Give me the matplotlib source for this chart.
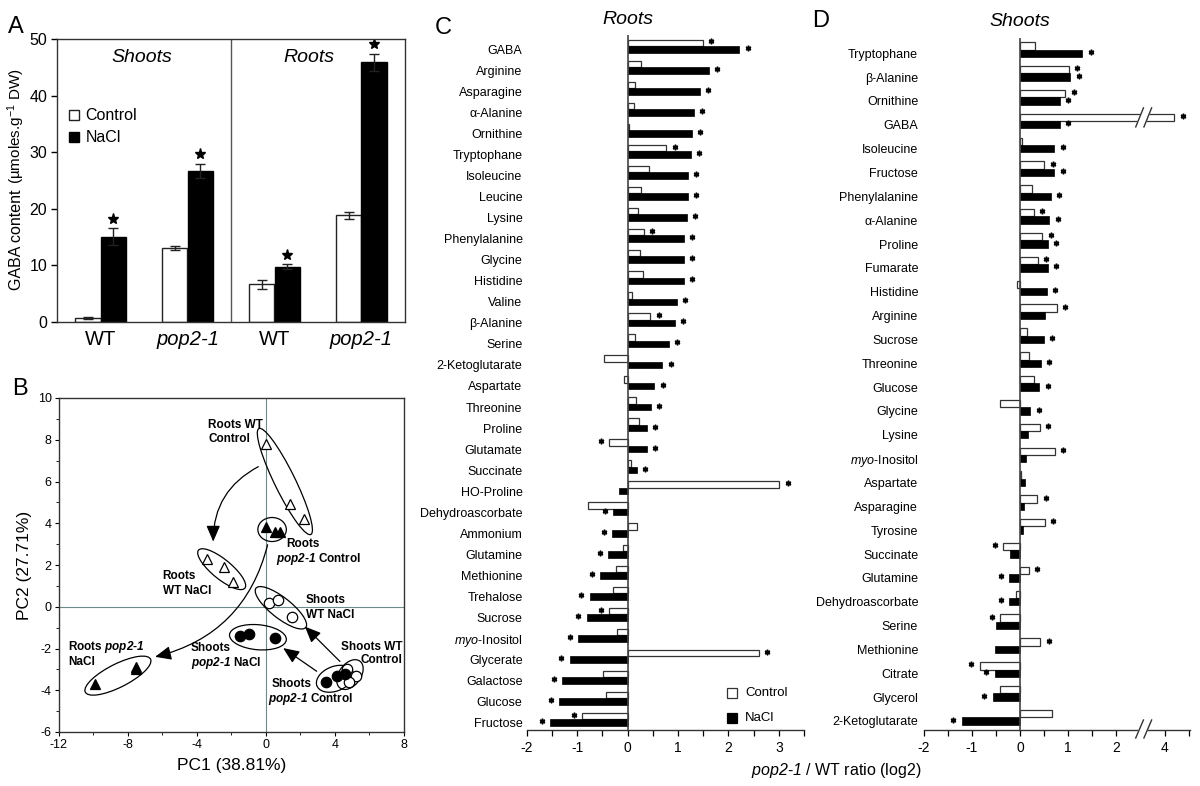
import matplotlib
matplotlib.use('Agg')
import matplotlib.pyplot as plt
import numpy as np
from matplotlib.patches import Ellipse
import matplotlib.transforms as mtransforms

plt.rcParams['font.family'] = ['Liberation Sans', 'DejaVu Sans']
plt.rcParams['mathtext.fontset'] = 'custom'
plt.rcParams['mathtext.rm'] = 'Liberation Sans'
plt.rcParams['mathtext.it'] = 'Liberation Sans:italic'
plt.rcParams['mathtext.bf'] = 'Liberation Sans:italic'          # used for plain italic words
plt.rcParams['mathtext.sf'] = 'Liberation Sans:italic:bold'     # used for bold italic words
plt.rcParams['mathtext.default'] = 'regular'
plt.rcParams['axes.unicode_minus'] = False

# ---------------- data ----------------
# Panel A: GABA content
a_groups = ['WT', 'pop2-1', 'WT', 'pop2-1']
a_ctrl = [0.7, 13.1, 6.7, 18.9]
a_ctrl_err = [0.15, 0.4, 0.8, 0.6]
a_nacl = [15.1, 26.7, 9.8, 45.9]
a_nacl_err = [1.5, 1.3, 0.4, 1.5]

# Panel B: PCA scores
rwc_x = [0.0, 1.4, 2.2];    rwc_y = [7.8, 4.9, 4.2]     # Roots WT Control
rpc_x = [0.0, 0.5, 0.8];    rpc_y = [3.8, 3.6, 3.6]     # Roots pop2-1 Control
rwn_x = [-3.4, -2.4, -1.9]; rwn_y = [2.3, 1.9, 1.2]     # Roots WT NaCl
rpn_x = [-9.9, -7.5, -7.5]; rpn_y = [-3.7, -3.0, -2.9]  # Roots pop2-1 NaCl
swc_x = [4.7, 5.2, 4.8];    swc_y = [-3.0, -3.3, -3.6]  # Shoots WT Control
spc_x = [3.5, 4.1, 4.6];    spc_y = [-3.6, -3.3, -3.2]  # Shoots pop2-1 Control
swn_x = [0.2, 0.7, 1.5];    swn_y = [0.2, 0.3, -0.5]    # Shoots WT NaCl
spn_x = [-1.5, -1.0, 0.5];  spn_y = [-1.4, -1.3, -1.5]  # Shoots pop2-1 NaCl

# Panel C: Roots log2 ratios
roots_labels = ['GABA', 'Arginine', 'Asparagine', 'α-Alanine', 'Ornithine', 'Tryptophane',
                'Isoleucine', 'Leucine', 'Lysine', 'Phenylalanine', 'Glycine', 'Histidine',
                'Valine', 'β-Alanine', 'Serine', '2-Ketoglutarate', 'Aspartate', 'Threonine',
                'Proline', 'Glutamate', 'Succinate', 'HO-Proline', 'Dehydroascorbate',
                'Ammonium', 'Glutamine', 'Methionine', 'Trehalose', 'Sucrose',
                '$\\mathbf{myo}$-Inositol', 'Glycerate', 'Galactose', 'Glucose', 'Fructose']
roots_ctrl = [1.49, 0.27, 0.14, 0.12, 0.02, 0.77, 0.42, 0.27, 0.20, 0.32, 0.24, 0.30, 0.08,
              0.45, 0.15, -0.46, -0.08, 0.16, 0.23, -0.36, 0.06, 3.01, -0.79, 0.18, -0.09,
              -0.22, -0.28, -0.36, -0.21, 2.61, -0.49, -0.42, -0.90]
roots_nacl = [2.22, 1.61, 1.43, 1.31, 1.27, 1.25, 1.20, 1.19, 1.17, 1.12, 1.12, 1.11, 0.98,
              0.94, 0.82, 0.69, 0.53, 0.46, 0.38, 0.38, 0.19, -0.16, -0.29, -0.30, -0.39,
              -0.54, -0.75, -0.81, -0.98, -1.15, -1.29, -1.35, -1.54]
roots_ctrl_sig = [1, 0, 0, 0, 0, 1, 0, 0, 0, 1, 0, 0, 0, 1, 0, 0, 0, 0, 0, 1, 0, 1, 0, 0, 0,
                  0, 0, 1, 0, 1, 0, 0, 1]
roots_nacl_sig = [1, 1, 1, 1, 1, 1, 1, 1, 1, 1, 1, 1, 1, 1, 1, 1, 1, 1, 1, 1, 1, 0, 1, 1, 1,
                  1, 1, 1, 1, 1, 1, 1, 1]

# Panel D: Shoots log2 ratios
shoots_labels = ['Tryptophane', 'β-Alanine', 'Ornithine', 'GABA', 'Isoleucine', 'Fructose',
                 'Phenylalanine', 'α-Alanine', 'Proline', 'Fumarate', 'Histidine', 'Arginine',
                 'Sucrose', 'Threonine', 'Glucose', 'Glycine', 'Lysine',
                 '$\\mathbf{myo}$-Inositol', 'Aspartate', 'Asparagine', 'Tyrosine', 'Succinate',
                 'Glutamine', 'Dehydroascorbate', 'Serine', 'Methionine', 'Citrate',
                 'Glycerol', '2-Ketoglutarate']
shoots_ctrl = [0.31, 1.01, 0.94, 4.2, 0.04, 0.50, 0.24, 0.29, 0.46, 0.37, -0.07, 0.76, 0.15,
               0.19, 0.29, -0.41, 0.41, 0.72, 0.01, 0.36, 0.52, -0.35, 0.18, -0.08, -0.42,
               0.42, -0.84, -0.41, 0.67]
shoots_nacl = [1.29, 1.04, 0.83, 0.83, 0.71, 0.71, 0.64, 0.61, 0.57, 0.57, 0.55, 0.52, 0.49,
               0.43, 0.40, 0.21, 0.17, 0.12, 0.10, 0.09, 0.07, -0.20, -0.23, -0.23, -0.51,
               -0.53, -0.53, -0.57, -1.21]
shoots_ctrl_sig = [0, 1, 1, 1, 0, 1, 0, 1, 1, 1, 0, 1, 0, 0, 0, 0, 1, 1, 0, 1, 1, 1, 1, 0, 1,
                   1, 1, 0, 0]
shoots_nacl_sig = [1, 1, 1, 1, 1, 1, 1, 1, 1, 1, 1, 0, 1, 1, 1, 1, 0, 0, 0, 0, 0, 0, 1, 1, 0,
                   0, 1, 1, 1]
d_ticks = [-2, -1, 0, 1, 2, 3]
d_ticklabels = ['-2', '-1', '0', '1', '2', '4']

# ---------------- figure ----------------
W, H = 1200, 786
fig = plt.figure(figsize=(W / 100, H / 100), dpi=100)
EDGE = '#333333'


def ax_px(l, t, r, b):
    return fig.add_axes([l / W, 1 - b / H, (r - l) / W, (b - t) / H])


def ftext(xp, yp, s, **kw):
    return fig.text(xp / W, 1 - yp / H, s, **kw)


# ---------------- Panel A ----------------
axA = ax_px(57, 39.3, 405, 322)
xa = np.arange(len(a_groups))
bw = 0.295
ekw = dict(lw=1, ecolor='#222222', capthick=1)
axA.bar(xa - bw / 2, a_ctrl, bw, color='white', edgecolor='#222222', lw=1,
        yerr=a_ctrl_err, capsize=3.5, error_kw=ekw, zorder=2)
axA.bar(xa + bw / 2, a_nacl, bw, color='black', edgecolor='black', lw=1,
        yerr=a_nacl_err, capsize=3.5, error_kw=ekw, zorder=2)
axA.plot(xa + bw / 2, np.array(a_nacl) + np.array(a_nacl_err) + 1.7, '*', color='black',
         ms=8, ls='none')
axA.axvline(1.5, color='#555555', lw=1)
axA.set_xlim(-0.5, 3.5)
axA.set_ylim(0, 50)
axA.set_yticks(range(0, 51, 10))
axA.set_xticks(xa)
axA.set_xticklabels(a_groups)
for lab in axA.get_xticklabels():
    if lab.get_text() != 'WT':
        lab.set_fontstyle('italic')
axA.tick_params(axis='x', length=0, pad=6, labelsize=14.5)
axA.tick_params(axis='y', length=4, width=1, labelsize=11.5, pad=3)
for s in axA.spines.values():
    s.set_color(EDGE)
    s.set_linewidth(1)
axA.text(0.48, 46.7, 'Shoots', fontstyle='italic', fontsize=14, ha='center', va='center')
axA.text(2.4, 46.7, 'Roots', fontstyle='italic', fontsize=14, ha='center', va='center')
axA.plot([-0.30], [36.6], 's', mfc='white', mec='#222222', ms=6.5, mew=1)
axA.plot([-0.30], [32.7], 's', mfc='black', mec='black', ms=6.5, mew=1)
axA.text(-0.17, 36.6, 'Control', fontsize=11.5, va='center')
axA.text(-0.17, 32.7, 'NaCl', fontsize=11.5, va='center')
ftext(21, 290, 'GABA content', rotation=90, rotation_mode='anchor', ha='left',
      va='baseline', fontsize=11.5)
ftext(21, 184, '(µmoles.g$^{-1}$ DW)', rotation=90, rotation_mode='anchor', ha='left',
      va='baseline', fontsize=11)
ftext(8, 26.7, 'A', fontsize=17, va='center', ha='left')

# ---------------- Panel B ----------------
axB = ax_px(58.7, 398, 404, 732)
axB.axhline(0, color='#6f8a8a', lw=0.8, zorder=0)
axB.axvline(0, color='#6f8a8a', lw=0.8, zorder=0)
mk = dict(ls='none', ms=7, mew=0.9, mec='black')
axB.plot(rwc_x, rwc_y, '^', mfc='white', **mk)
axB.plot(rwn_x, rwn_y, '^', mfc='white', **mk)
axB.plot(rpc_x, rpc_y, '^', mfc='black', **mk)
axB.plot(rpn_x, rpn_y, '^', mfc='black', **mk)
mkc = dict(ls='none', ms=7.5, mew=0.9, mec='black')
axB.plot(swn_x, swn_y, 'o', mfc='white', **mkc)
axB.plot(swc_x, swc_y, 'o', mfc='white', **mkc)
axB.plot(spc_x, spc_y, 'o', mfc='black', **mkc)
axB.plot(spn_x, spn_y, 'o', mfc='black', **mkc)

ellipses = [((1.1, 6.0), 5.9, 1.15, -59), ((0.36, 3.7), 1.65, 1.15, 0),
            ((-2.56, 1.8), 3.25, 1.0, -33), ((0.87, -0.05), 3.45, 1.05, -32),
            ((-0.46, -1.46), 3.3, 1.2, -4), ((-8.57, -3.3), 4.1, 1.15, 22),
            ((4.0, -3.45), 2.2, 1.2, 15), ((4.87, -3.25), 1.75, 1.15, 40)]
for c, w_, h_, ang in ellipses:
    axB.add_patch(Ellipse(c, w_, h_, angle=ang, fill=False, ec='black', lw=0.9))

apk = dict(arrowstyle='-|>,head_length=0.7,head_width=0.3', color='black', lw=0.9,
           mutation_scale=14, shrinkA=0, shrinkB=0)
axB.annotate('', xy=(-3.05, 3.12), xytext=(-0.44, 6.71),
             arrowprops=dict(connectionstyle='arc3,rad=0.3', **apk))
axB.annotate('', xy=(-6.42, -2.4), xytext=(0.1, 2.97),
             arrowprops=dict(connectionstyle='arc3,rad=-0.3', **apk))
axB.annotate('', xy=(2.26, -0.95), xytext=(4.29, -2.62), arrowprops=dict(**apk))
axB.annotate('', xy=(1.0, -1.98), xytext=(2.94, -3.09), arrowprops=dict(**apk))

PB = '$\\mathsf{pop2}$-$\\mathsf{1}$'
bl = dict(fontsize=8.5, fontweight='bold', va='center')
axB.text(-3.34, 8.72, 'Roots WT', ha='left', **bl)
axB.text(-3.34, 8.02, 'Control', ha='left', **bl)
axB.text(1.2, 3.0, 'Roots', ha='left', **bl)
axB.text(0.58, 2.28, PB + ' Control', ha='left', **bl)
axB.text(-5.98, 1.45, 'Roots', ha='left', **bl)
axB.text(-5.98, 0.77, 'WT NaCl', ha='left', **bl)
axB.text(2.32, 0.3, 'Shoots', ha='left', **bl)
axB.text(2.32, -0.4, 'WT NaCl', ha='left', **bl)
axB.text(7.92, -1.93, 'Shoots WT', ha='right', **bl)
axB.text(7.92, -2.57, 'Control', ha='right', **bl)
axB.text(-11.44, -1.93, 'Roots ' + PB, ha='left', **bl)
axB.text(-11.44, -2.65, 'NaCl', ha='left', **bl)
axB.text(-4.34, -1.98, 'Shoots', ha='left', **bl)
axB.text(-4.34, -2.7, PB + ' NaCl', ha='left', **bl)
axB.text(0.33, -3.7, 'Shoots', ha='left', **bl)
axB.text(0.1, -4.42, PB + ' Control', ha='left', **bl)

axB.set_xlim(-12, 8)
axB.set_ylim(-6, 10)
axB.set_xticks(range(-12, 9, 4))
axB.set_xticks(range(-10, 8, 4), minor=True)
axB.set_yticks(range(-6, 11, 2))
axB.set_yticks(range(-5, 10, 2), minor=True)
axB.tick_params(which='major', length=3, width=0.8, labelsize=9, pad=2)
axB.tick_params(which='minor', length=2, width=0.6)
for s in axB.spines.values():
    s.set_color(EDGE)
    s.set_linewidth(1)
axB.set_xlabel('PC1 (38.81%)', fontsize=12.5, labelpad=5)
axB.set_ylabel('PC2 (27.71%)', fontsize=12.5, labelpad=4)
ftext(11.7, 389, 'B', fontsize=17, va='center', ha='left')


# ---------------- Panels C and D ----------------
def star(ax, v, yc):
    d = 6 if v >= 0 else -6
    tr = mtransforms.offset_copy(ax.transData, fig=fig, x=d, y=1.0, units='points')
    ax.plot([v], [yc], marker=(6, 2, 0), ms=4.0, mew=1.1, color='black', ls='none',
            transform=tr, clip_on=False)


def ratio_panel(ax, labels, ctrl_disp, nacl, csig, nsig, ylim, pad):
    idx = np.arange(len(labels))
    ax.barh(idx - 0.31, ctrl_disp, height=0.31, color='white', edgecolor=EDGE, lw=0.9,
            zorder=2)
    ax.barh(idx, nacl, height=0.31, color='black', edgecolor='black', lw=0.5, zorder=2)
    for i in idx:
        if csig[i]:
            star(ax, ctrl_disp[i], i - 0.31)
        if nsig[i]:
            star(ax, nacl[i], i)
    ax.axvline(0, color='#444444', lw=1.2, zorder=3)
    ax.set_ylim(*ylim)
    ax.set_yticks(idx)
    ax.set_yticklabels(labels)
    ax.tick_params(axis='y', length=0, pad=pad, labelsize=9)
    ax.tick_params(axis='x', which='both', direction='out', length=4, width=0.9,
                   labelsize=10, pad=4)
    for k in ['left', 'top', 'right']:
        ax.spines[k].set_visible(False)
    ax.spines['bottom'].set_color(EDGE)
    ax.spines['bottom'].set_linewidth(1)
    ax.patch.set_alpha(0)


axC = ax_px(526.7, 35, 804, 730)
ratio_panel(axC, roots_labels, roots_ctrl, roots_nacl, roots_ctrl_sig, roots_nacl_sig,
            (32.35, -0.68), 3)
axC.set_xlim(-2, 3.5)
axC.set_xticks(range(-2, 4))
axC.set_xticks(np.arange(-1.5, 3.6, 1.0), minor=True)
axC.plot([2.07], [30.6], 's', mfc='white', mec=EDGE, ms=7, mew=0.9)
axC.plot([2.07], [31.78], 's', mfc='black', mec='black', ms=7, mew=0.9)
axC.text(2.33, 30.6, 'Control', fontsize=9.5, va='center')
axC.text(2.33, 31.78, 'NaCl', fontsize=9.5, va='center')
ftext(628, 20, 'Roots', fontstyle='italic', fontsize=14, ha='center', va='center')
ftext(435, 27.5, 'C', fontsize=17, va='center', ha='left')

# display transform for the broken axis in D (values above the break shifted by 1)
shoots_ctrl_disp = [v - 1 if v > 2.5 else v for v in shoots_ctrl]
axD = ax_px(923.7, 38, 1189.7, 730)
ratio_panel(axD, shoots_labels, shoots_ctrl_disp, shoots_nacl, shoots_ctrl_sig,
            shoots_nacl_sig, (28.38, -0.64), 4)
axD.set_xlim(-2, 3.52)
axD.set_xticks(d_ticks)
axD.set_xticklabels(d_ticklabels)
axD.set_xticks([-1.5, -0.5, 0.5, 1.5, 3.5], minor=True)
# axis break marks
bt = mtransforms.blended_transform_factory(axD.transData, axD.transAxes)
pxf = 1 / 692
axD.fill([2.40, 2.56, 2.73, 2.57], [-8 * pxf, 10 * pxf, 10 * pxf, -8 * pxf], color='white',
         transform=bt, clip_on=False, zorder=5)
for x0 in (2.40, 2.57):
    axD.plot([x0, x0 + 0.16], [-8 * pxf, 10 * pxf], color=EDGE, lw=1, transform=bt,
             clip_on=False, zorder=6)
# break on the GABA bar
gi = shoots_labels.index('GABA')
axD.fill([2.40, 2.56, 2.73, 2.57], [gi + 0.09, gi - 0.71, gi - 0.71, gi + 0.09],
         color='white', zorder=5)
for x0 in (2.40, 2.57):
    axD.plot([x0, x0 + 0.16], [gi + 0.09, gi - 0.71], color=EDGE, lw=1, zorder=6)
ftext(1020, 21, 'Shoots', fontstyle='italic', fontsize=14, ha='center', va='center')
ftext(812, 21, 'D', fontsize=17, va='center', ha='left')

ftext(836, 770, '$\\mathbf{pop2}$-$\\mathbf{1}$ / WT ratio (log2)', fontsize=11.5,
      ha='center', va='center')

fig.savefig('out.png', dpi=100)
